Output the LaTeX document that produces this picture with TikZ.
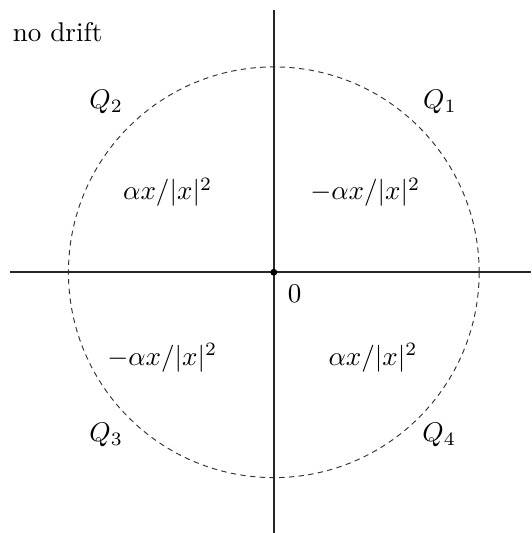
\documentclass[tikz,border=0pt]{standalone}
\usepackage{amsmath,amssymb}
\usepackage{tikz}
\usetikzlibrary{positioning}

\begin{document}
\begin{tikzpicture}[
    axis/.style={line width=0.6pt, black!85},
    region/.style={dashed, dash pattern=on 2pt off 1.6pt, line width=0.35pt, black!80},
    lab/.style={inner sep=0pt}
]
\useasboundingbox (-3.56,-3.39) rectangle (3.35,3.54);
\coordinate (o) at (0,0);
\coordinate (west) at (-3.43,0);
\coordinate (east) at (3.35,0);
\coordinate (north) at (0,3.41);
\coordinate (south) at (0,-3.39);

\draw[region] (o) circle (2.67);
\draw[axis] (west) -- (east);
\draw[axis] (north) -- (south);
\fill (o) circle (0.045);

\node[lab, anchor=base west] (title) at (-3.40,3.00) {no drift};
\node[lab] (zero) at (0.27,-0.28) {$0$};

\node[lab] (q1) at (2.16,2.21) {$Q_1$};
\node[lab] (q2) at (-2.18,2.21) {$Q_2$};
\node[lab] (q3) at (-2.18,-2.12) {$Q_3$};
\node[lab] (q4) at (2.15,-2.12) {$Q_4$};

\node[lab] (f2) at (-1.38,1.04) {$\alpha x/|x|^2$};
\node[lab] (f1) at (1.19,1.04) {$-\alpha x/|x|^2$};
\node[lab] (f3) at (-1.45,-1.11) {$-\alpha x/|x|^2$};
\node[lab] (f4) at (1.29,-1.11) {$\alpha x/|x|^2$};
\end{tikzpicture}
\end{document}
